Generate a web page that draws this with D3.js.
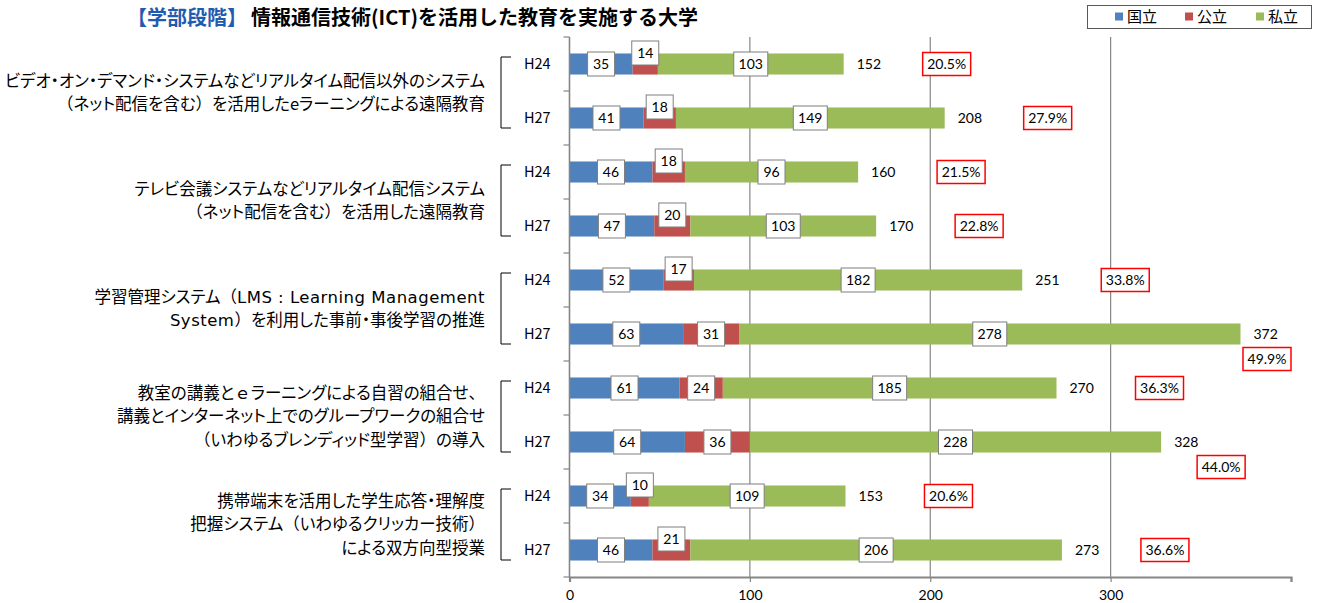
<!DOCTYPE html>
<html lang="ja">
<head>
<meta charset="utf-8">
<script src="https://cdn.jsdelivr.net/npm/d3@7"></script>
<style>
  html, body { margin: 0; padding: 0; background: #fff; }
  svg { display: block; }
  .jp { font-family: "Noto Sans CJK JP", "Noto Sans", sans-serif; }
  .palt { font-feature-settings: "palt"; }
  .full { font-feature-settings: normal; }
  .latin { font-family: "DejaVu Sans", "Noto Sans", sans-serif; font-feature-settings: normal; letter-spacing: 0.5px; }
  .num { font-family: Lato, "Liberation Sans", sans-serif; }
</style>
</head>
<body>
<svg id="chart" width="1318" height="603"></svg>
<script>
// 取組ごとの項目名（複数行）
const itemLabels = [
  ["ビデオ・オン・デマンド・システムなどリアルタイム配信以外のシステム", "（ネット配信を含む）を活用したeラーニングによる遠隔教育"],
  ["テレビ会議システムなどリアルタイム配信システム", "（ネット配信を含む）を活用した遠隔教育"],
  ["学習管理システム（LMS : Learning Management", "System）を利用した事前・事後学習の推進"],
  ["教室の講義とｅラーニングによる自習の組合せ、", "講義とインターネット上でのグループワークの組合せ", "（いわゆるブレンディッド型学習）の導入"],
  ["携帯端末を活用した学生応答・理解度", "把握システム（いわゆるクリッカー技術）", "による双方向型授業"]
];
const years = ["H24", "H27"];

// 設置者別の大学数（各取組 H24, H27 の順）
const national = [35, 41, 46, 47, 52, 63, 61, 64, 34, 46];
const publicU  = [14, 18, 18, 20, 17, 31, 24, 36, 10, 21];
const privateU = [103, 149, 96, 103, 182, 278, 185, 228, 109, 206];
const shares   = ["20.5%", "27.9%", "21.5%", "22.8%", "33.8%", "49.9%", "36.3%", "44.0%", "20.6%", "36.6%"];

const seriesNames  = ["国立", "公立", "私立"];
const seriesColors = ["#4F81BD", "#C0504D", "#9BBB59"];
const xTickValues  = [0, 100, 200, 300];
const xMax = 400;

const svg = d3.select("#chart");
const plotL = 569.5, plotR = 1291, plotT = 37, plotB = 577;

const x = d3.scaleLinear().domain([0, xMax]).range([plotL, plotR]);
const rowIdx = d3.range(national.length);
const y = d3.scaleBand().domain(rowIdx).range([plotT, plotB]).paddingInner(0.61).paddingOuter(0.305);
const step = y.step();
const cy = i => y(i) + y.bandwidth() / 2;

// 目盛り線
svg.append("g").selectAll("line").data(xTickValues.filter(v => v > 0)).join("line")
  .attr("x1", d => x(d)).attr("x2", d => x(d))
  .attr("y1", plotT).attr("y2", plotB)
  .attr("stroke", "#868686").attr("stroke-width", 1.2);

// 積み上げ横棒
const rows = rowIdx.map(i => ({ i, vals: [national[i], publicU[i], privateU[i]] }));
const stackData = rowIdx.map(i => ({ i, n: national[i], p: publicU[i], s: privateU[i] }));
const stacked = d3.stack().keys(["n", "p", "s"])(stackData);

const barG = svg.append("g");
stacked.forEach((layer, k) => {
  barG.append("g").attr("fill", seriesColors[k]).selectAll("rect").data(layer).join("rect")
    .attr("x", d => x(d[0]))
    .attr("width", d => x(d[1]) - x(d[0]))
    .attr("y", d => y(d.data.i))
    .attr("height", y.bandwidth());
});

// 軸
const axisColor = "#868686";
svg.append("line").attr("x1", plotL).attr("x2", plotL).attr("y1", plotT).attr("y2", plotB)
  .attr("stroke", axisColor).attr("stroke-width", 1.6);
svg.append("g").selectAll("line").data(d3.range(national.length + 1)).join("line")
  .attr("x1", plotL - 6).attr("x2", plotL)
  .attr("y1", d => plotT + d * step).attr("y2", d => plotT + d * step)
  .attr("stroke", axisColor).attr("stroke-width", 1.2);

const xAxis = d3.axisBottom(x).tickValues(xTickValues.concat([xMax])).tickSize(5).tickFormat(d => d === xMax ? "" : d);
const xg = svg.append("g").attr("transform", `translate(0,${plotB})`).call(xAxis);
xg.select(".domain").attr("stroke", axisColor).attr("stroke-width", 2.2);
xg.selectAll(".tick line").attr("stroke", axisColor).attr("stroke-width", 1.2);
xg.selectAll(".tick text").attr("class", "num").attr("font-size", 14).attr("fill", "#000").attr("dy", "1.05em");

// データラベル（白地の枠）
const labG = svg.append("g");
stacked.forEach((layer, k) => {
  layer.forEach(d => {
    const v = d[1] - d[0];
    const txt = String(v);
    const w = txt.length >= 3 ? 34 : 27, h = 24;
    const segW = x(d[1]) - x(d[0]);
    const mx = (x(d[0]) + x(d[1])) / 2;
    const my = cy(d.data.i) + (k === 1 && segW < 40 ? -11 : 0);
    const g = labG.append("g").attr("transform", `translate(${mx},${my})`);
    g.append("rect").attr("x", -w / 2).attr("y", -h / 2).attr("width", w).attr("height", h)
      .attr("fill", "#fff").attr("stroke", "#7f7f7f").attr("stroke-width", 1);
    g.append("text").attr("class", "num").attr("text-anchor", "middle").attr("dy", "0.36em")
      .attr("font-size", 14).text(txt);
  });
});

// 合計値と割合
const totG = svg.append("g");
rows.forEach(r => {
  const total = d3.sum(r.vals);
  const ex = x(total);
  totG.append("text").attr("class", "num").attr("x", ex + 13).attr("y", cy(r.i)).attr("dy", "0.36em")
    .attr("font-size", 14).text(total);
  let px, py;
  if (total > 300) {
    px = Math.min(ex + 60, plotR - 24);
    py = cy(r.i) + 25;
  } else {
    px = ex + 103;
    py = cy(r.i);
  }
  const g = totG.append("g").attr("transform", `translate(${px},${py})`);
  g.append("rect").attr("x", -24).attr("y", -11.5).attr("width", 48).attr("height", 23)
    .attr("fill", "#fff").attr("stroke", "#ff0000").attr("stroke-width", 1.5);
  g.append("text").attr("class", "num").attr("text-anchor", "middle").attr("dy", "0.36em")
    .attr("font-size", 14).text(shares[r.i]);
});

// 年度ラベルと括弧
const catG = svg.append("g");
rowIdx.forEach(i => {
  catG.append("text").attr("class", "jp").attr("x", 524).attr("y", cy(i)).attr("dy", "0.36em")
    .attr("font-size", 14.5).attr("fill", "#000").text(years[i % 2]);
});

// 項目名：かなは詰め組み、括弧類は全角、英字は幅広の書体で組む
function setRuns(textSel, str) {
  const parts = str.split(/([（）、ｅ]|[A-Za-z :]+)/).filter(s => s.length);
  parts.forEach(p => {
    let cls = "palt";
    if (/^[（）、ｅ]$/.test(p)) cls = "full";
    else if (/^[A-Za-z :]+$/.test(p) && /[A-Za-z]{2,}/.test(p)) cls = "latin";
    textSel.append("tspan").attr("class", cls).text(p);
  });
}

itemLabels.forEach((lines, g) => {
  const y1 = cy(2 * g) - 7, y2 = cy(2 * g + 1) + 10;
  catG.append("path").attr("d", `M511,${y1}H501V${y2}H511`)
    .attr("fill", "none").attr("stroke", "#000").attr("stroke-width", 1);
  const mid = (cy(2 * g) + cy(2 * g + 1)) / 2 + 1.5;
  const lh = 23.5;
  lines.forEach((ln, j) => {
    const t = catG.append("text").attr("class", "jp").attr("x", 485)
      .attr("y", mid + (j - (lines.length - 1) / 2) * lh).attr("dy", "0.36em")
      .attr("text-anchor", "end").attr("font-size", 16.5).attr("fill", "#000");
    setRuns(t, ln);
  });
});

// タイトル
const title = svg.append("text").attr("class", "jp").attr("x", 127).attr("y", 18).attr("dy", "0.36em")
  .attr("font-size", 20).attr("font-weight", 700);
title.append("tspan").attr("fill", "#1F5BB0").text("【学部段階】");
title.append("tspan").attr("fill", "#000").attr("dx", 4).text("情報通信技術(ICT)を活用した教育を実施する大学");

// 凡例
const lg = svg.append("g");
lg.append("rect").attr("x", 1087.5).attr("y", 5.5).attr("width", 224).attr("height", 23)
  .attr("fill", "#fff").attr("stroke", "#595959").attr("stroke-width", 1);
const legX = [1115, 1185, 1256];
seriesNames.forEach((nm, k) => {
  lg.append("rect").attr("x", legX[k]).attr("y", 12.5).attr("width", 8).attr("height", 8).attr("fill", seriesColors[k]);
  lg.append("text").attr("class", "jp palt").attr("x", legX[k] + 12).attr("y", 17).attr("dy", "0.36em")
    .attr("font-size", 15).text(nm);
});
</script>
</body>
</html>
